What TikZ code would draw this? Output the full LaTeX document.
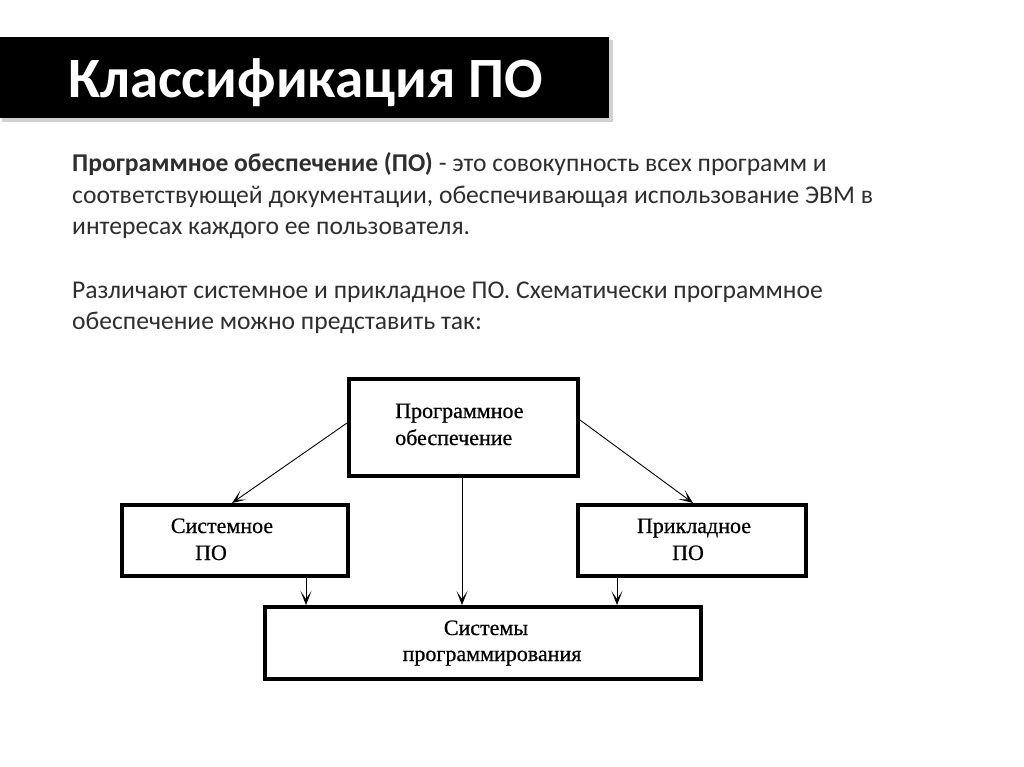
\documentclass[tikz,border=0pt]{standalone}
\usepackage{fontspec}
\setmainfont{Carlito}
\newfontfamily\diagfont[FakeBold=0.6]{Liberation Serif}
\usetikzlibrary{arrows.meta}
\definecolor{bodytext}{HTML}{2E2E2E}
\begin{document}
\begin{tikzpicture}[x=1pt,y=-1pt,
  box/.style={draw=black, line width=4pt, inner sep=0pt},
  lbl/.style={inner sep=0pt, font=\diagfont\fontsize{22}{27}\selectfont},
  conn/.style={draw=black, line width=0.9pt, -{Stealth[length=14pt, width=11pt, inset=8pt]}},
  para/.style={anchor=base west, inner sep=0pt, text=bodytext, font=\fontsize{25.6}{31}\selectfont}]
\useasboundingbox (0,0) rectangle (1024,767);
\fill[white] (0,0) rectangle (1024,767);
% title bar with shadow
\fill[black!18] (2,40) rectangle (613,122);
\node[fill=black, minimum width=609pt, minimum height=81pt, inner sep=0pt, anchor=north west] (bar) at (0,37) {};
\node[anchor=base west, inner sep=0pt, text=white, font=\bfseries\fontsize{57}{60}\selectfont] (title) at (68,98) {Классификация ПО};
% paragraphs
\node[para] (p1) at (72,172) {\textbf{Программное обеспечение (ПО)} - это совокупность всех программ и};
\node[para] (p2) at (72,203.5) {соответствующей документации, обеспечивающая использование ЭВМ в};
\node[para] (p3) at (72,235) {интересах каждого ее пользователя.};
\node[para] (p4) at (72,298) {Различают системное и прикладное ПО. Схематически программное};
\node[para] (p5) at (72,329.5) {обеспечение можно представить так:};
% diagram boxes
\node[box, minimum width=229pt, minimum height=97pt] (top) at (463.5,427.5) {};
\node[lbl, anchor=base west] (toptxt1) at (395,418) {Программное};
\node[lbl, anchor=base west] (toptxt2) at (395,445) {обеспечение};
\node[box, minimum width=226pt, minimum height=71pt] (sys) at (235,540.5) {};
\node[lbl, anchor=base] (systxt1) at (222,533) {Системное};
\node[lbl, anchor=base] (systxt2) at (211,560) {ПО};
\node[box, minimum width=228pt, minimum height=71pt] (app) at (692,540.5) {};
\node[lbl, anchor=base] (apptxt1) at (694,533) {Прикладное};
\node[lbl, anchor=base] (apptxt2) at (688,560) {ПО};
\node[box, minimum width=436pt, minimum height=72pt] (prog) at (483,643) {};
\node[lbl, anchor=base] (progtxt1) at (486,635) {Системы};
\node[lbl, anchor=base] (progtxt2) at (492,661) {программирования};
% connectors
\coordinate (tl) at (347,423);
\coordinate (tr) at (580,420);
\draw[conn] (tl) -- (232,503) coordinate (sysin);
\draw[conn] (tr) -- (693,503) coordinate (appin);
\draw[conn] (top.south -| 462,0) -- (prog.north -| 462,0);
\draw[conn] (sys.south -| 306,0) -- (prog.north -| 306,0);
\draw[conn] (app.south -| 617,0) -- (prog.north -| 617,0);
\end{tikzpicture}
\end{document}
